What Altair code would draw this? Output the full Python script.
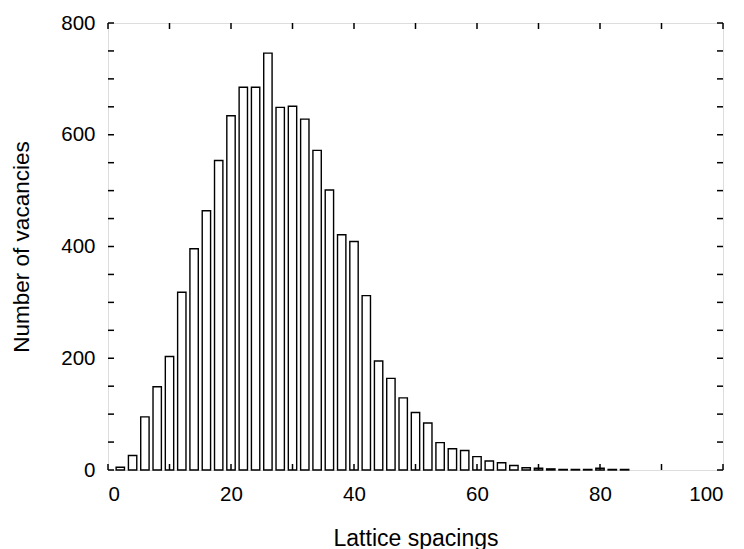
import altair as alt
import pandas as pd

# Histogram data
centers = [2, 4, 6, 8, 10, 12, 14, 16, 18, 20, 22, 24, 26, 28, 30, 32, 34, 36, 38, 40,
           42, 44, 46, 48, 50, 52, 54, 56, 58, 60, 62, 64, 66, 68, 70, 72, 74, 76, 78, 80,
           82, 84]
counts = [5, 26, 95, 149, 203, 318, 396, 464, 554, 634, 685, 685, 746, 649, 651, 628, 572, 501, 421, 409,
          312, 195, 164, 129, 103, 84, 49, 38, 35, 24, 16, 13, 8, 4, 3, 2, 1, 1, 1, 3,
          1, 1]
half_width = 0.68

x_ticks = list(range(0, 101, 10))
y_ticks = list(range(0, 801, 50))
x_labels = [0, 20, 40, 60, 80, 100]
y_labels = [0, 200, 400, 600, 800]

W, H = 615, 447
FONT = "Liberation Sans"

bars_df = pd.DataFrame({
    "lo": [c - half_width for c in centers],
    "hi": [c + half_width for c in centers],
    "count": counts,
})
xt_df = pd.DataFrame({"lo": x_ticks})
yt_df = pd.DataFrame({"count": y_ticks})

xscale = alt.Scale(domain=[0, 100], nice=False, zero=False)
yscale = alt.Scale(domain=[0, 800], nice=False)

xaxis = alt.Axis(values=x_labels, title="Lattice spacings", ticks=False, domain=False,
                 grid=False, labelPadding=14, labelFontSize=20.5, labelFont=FONT,
                 labelColor="black", titleFont=FONT, titleFontSize=23,
                 titleFontWeight="normal", titleColor="black",
                 titleY=75, titleBaseline="alphabetic")
yaxis = alt.Axis(values=y_labels, title="Number of vacancies", ticks=False, domain=False,
                 grid=False, labelPadding=13, labelFontSize=20.5, labelFont=FONT,
                 labelColor="black", titleFont=FONT, titleFontSize=22.5,
                 titleFontWeight="normal", titleColor="black",
                 titleX=-80, titleY=H / 2, titleAngle=-90,
                 titleBaseline="alphabetic")

bars = alt.Chart(bars_df).mark_bar(fill="white", stroke="black", strokeWidth=1.4).encode(
    x=alt.X("lo:Q", scale=xscale, axis=xaxis),
    x2="hi:Q",
    y=alt.Y("count:Q", scale=yscale, axis=yaxis),
    y2=alt.datum(0),
)

tick_len = 6
bottom_ticks = alt.Chart(xt_df).mark_rule(color="black", strokeWidth=1.5).encode(
    x=alt.X("lo:Q", scale=xscale, axis=xaxis), y=alt.value(H), y2=alt.value(H - tick_len))
top_ticks = alt.Chart(xt_df).mark_rule(color="black", strokeWidth=1.5).encode(
    x=alt.X("lo:Q", scale=xscale, axis=xaxis), y=alt.value(0), y2=alt.value(tick_len))
left_ticks = alt.Chart(yt_df).mark_rule(color="black", strokeWidth=1.5).encode(
    y=alt.Y("count:Q", scale=yscale, axis=yaxis), x=alt.value(0), x2=alt.value(tick_len))
right_ticks = alt.Chart(yt_df).mark_rule(color="black", strokeWidth=1.5).encode(
    y=alt.Y("count:Q", scale=yscale, axis=yaxis), x=alt.value(W), x2=alt.value(W - tick_len))

chart = alt.layer(bars, bottom_ticks, top_ticks, left_ticks, right_ticks).properties(
    width=W, height=H,
    autosize=alt.AutoSizeParams(type="none"),
    padding={"left": 100, "top": 15, "right": 13, "bottom": 79},
).configure_view(stroke="black", strokeWidth=2).configure(background="white")

chart.save("out.html", embed_options={"renderer": "svg", "actions": False})
